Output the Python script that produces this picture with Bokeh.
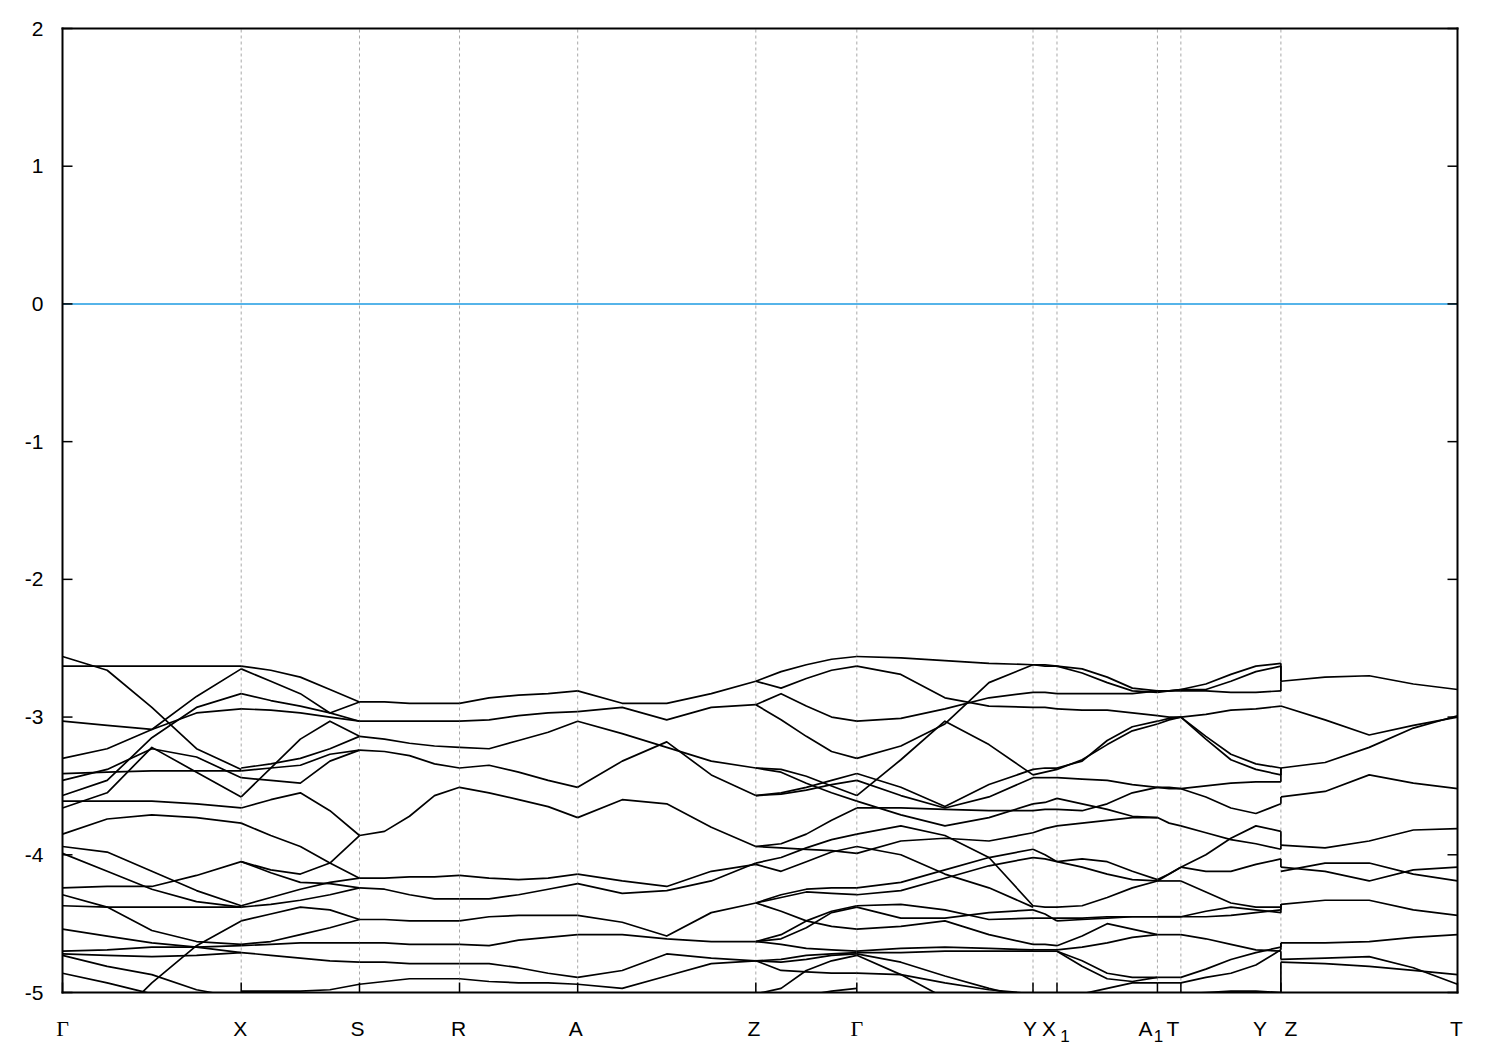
import numpy as np
from bokeh.plotting import figure
from bokeh.models import Range1d, FixedTicker, BoxAnnotation
from bokeh.core.properties import value
from bokeh.embed import file_html
from bokeh.resources import INLINE

# ---------------- data ----------------
kpt_names = ["Γ", "X", "S", "R", "A", "Z", "Γ", "Y", "X_1", "A_1", "T", "Y|Z", "T"]
kpt_pos = [0.0, 0.1281, 0.2129, 0.2846, 0.3693, 0.4970, 0.5694,
           0.6957, 0.7129, 0.7849, 0.8017, 0.8734, 1.0]
energy_ticks = [-5, -4, -3, -2, -1, 0, 1, 2]
fermi_level = 0.0

bands_G_X = [
    [-2.56, -2.66, -2.93, -3.23, -3.38],
    [-2.63, -2.63, -2.63, -2.63, -2.63],
    [-3.30, -3.23, -3.09, -2.85, -2.65],
    [-3.03, -3.06, -3.09, -2.97, -2.94],
    [-3.57, -3.46, -3.15, -2.93, -2.83],
    [-3.46, -3.38, -3.23, -3.29, -3.44],
    [-3.41, -3.40, -3.39, -3.39, -3.39],
    [-3.66, -3.55, -3.22, -3.40, -3.58],
    [-3.61, -3.61, -3.61, -3.63, -3.66],
    [-3.85, -3.74, -3.71, -3.73, -3.77],
    [-3.94, -3.98, -4.12, -4.26, -4.37],
    [-3.99, -4.12, -4.25, -4.34, -4.38],
    [-4.24, -4.23, -4.23, -4.15, -4.05],
    [-4.29, -4.38, -4.55, -4.63, -4.65],
    [-4.37, -4.38, -4.38, -4.38, -4.38],
    [-4.54, -4.59, -4.64, -4.67, -4.71],
    [-4.70, -4.69, -4.67, -4.67, -4.66],
    [-4.72, -4.73, -4.74, -4.73, -4.71],
    [-4.73, -4.81, -4.87, -4.98, -5.04],
    [-4.86, -4.93, -5.01, -5.10, -5.15],
    [-5.30, -5.25, -4.93, -4.66, -4.48],
]

bands_X_S = [
    [-2.63, -2.66, -2.71, -2.80, -2.89],
    [-2.65, -2.74, -2.83, -2.97, -3.03],
    [-2.83, -2.88, -2.92, -2.97, -2.89],
    [-2.94, -2.95, -2.97, -3.00, -3.03],
    [-3.37, -3.34, -3.30, -3.23, -3.14],
    [-3.39, -3.37, -3.35, -3.27, -3.24],
    [-3.44, -3.46, -3.48, -3.32, -3.24],
    [-3.58, -3.37, -3.16, -3.03, -3.14],
    [-3.66, -3.60, -3.55, -3.68, -3.86],
    [-3.77, -3.86, -3.94, -4.06, -4.17],
    [-4.05, -4.11, -4.14, -4.06, -3.86],
    [-4.05, -4.13, -4.20, -4.21, -4.24],
    [-4.37, -4.31, -4.25, -4.20, -4.17],
    [-4.38, -4.36, -4.33, -4.29, -4.24],
    [-4.48, -4.43, -4.38, -4.40, -4.47],
    [-4.65, -4.63, -4.58, -4.53, -4.47],
    [-4.66, -4.65, -4.64, -4.64, -4.64],
    [-4.71, -4.73, -4.75, -4.77, -4.78],
    [-4.99, -4.99, -4.99, -4.98, -4.94],
]

bands_S_R = [
    [-2.89, -2.89, -2.90, -2.90, -2.90],
    [-3.03, -3.03, -3.03, -3.03, -3.03],
    [-3.14, -3.16, -3.19, -3.21, -3.22],
    [-3.24, -3.25, -3.28, -3.34, -3.37],
    [-3.86, -3.83, -3.72, -3.57, -3.51],
    [-4.17, -4.17, -4.16, -4.16, -4.15],
    [-4.24, -4.25, -4.29, -4.32, -4.32],
    [-4.47, -4.47, -4.48, -4.48, -4.48],
    [-4.64, -4.64, -4.65, -4.65, -4.65],
    [-4.78, -4.78, -4.79, -4.79, -4.79],
    [-4.94, -4.92, -4.90, -4.90, -4.90],
]

bands_R_A = [
    [-2.90, -2.86, -2.84, -2.83, -2.81],
    [-3.03, -3.02, -2.99, -2.97, -2.96],
    [-3.22, -3.23, -3.17, -3.11, -3.03],
    [-3.37, -3.35, -3.40, -3.46, -3.51],
    [-3.51, -3.55, -3.60, -3.65, -3.73],
    [-4.15, -4.17, -4.18, -4.17, -4.14],
    [-4.32, -4.32, -4.29, -4.25, -4.21],
    [-4.48, -4.45, -4.44, -4.44, -4.44],
    [-4.65, -4.66, -4.62, -4.60, -4.58],
    [-4.79, -4.79, -4.82, -4.86, -4.89],
    [-4.90, -4.92, -4.93, -4.93, -4.94],
]

bands_A_Z = [
    [-2.81, -2.90, -2.90, -2.83, -2.74],
    [-2.96, -2.93, -3.02, -2.93, -2.91],
    [-3.03, -3.12, -3.22, -3.32, -3.37],
    [-3.51, -3.32, -3.18, -3.42, -3.57],
    [-3.73, -3.60, -3.63, -3.80, -3.94],
    [-4.14, -4.19, -4.23, -4.12, -4.07],
    [-4.21, -4.28, -4.26, -4.19, -4.06],
    [-4.44, -4.49, -4.59, -4.42, -4.35],
    [-4.58, -4.58, -4.61, -4.63, -4.63],
    [-4.89, -4.84, -4.72, -4.75, -4.77],
    [-4.94, -4.97, -4.88, -4.79, -4.77],
]

bands_Z_G = [
    [-2.74, -2.67, -2.62, -2.58, -2.56],
    [-2.74, -2.79, -2.72, -2.66, -2.63],
    [-2.91, -2.83, -2.92, -3.00, -3.03],
    [-2.91, -3.02, -3.14, -3.25, -3.30],
    [-3.37, -3.38, -3.43, -3.50, -3.57],
    [-3.37, -3.40, -3.48, -3.55, -3.61],
    [-3.57, -3.55, -3.51, -3.46, -3.41],
    [-3.57, -3.56, -3.53, -3.49, -3.46],
    [-3.94, -3.92, -3.85, -3.75, -3.66],
    [-3.94, -3.95, -3.96, -3.97, -3.99],
    [-4.06, -4.02, -3.95, -3.89, -3.85],
    [-4.07, -4.12, -4.05, -3.98, -3.94],
    [-4.35, -4.29, -4.25, -4.24, -4.24],
    [-4.35, -4.31, -4.27, -4.28, -4.29],
    [-4.35, -4.41, -4.48, -4.52, -4.54],
    [-4.63, -4.58, -4.48, -4.41, -4.37],
    [-4.63, -4.61, -4.53, -4.42, -4.38],
    [-4.63, -4.65, -4.68, -4.69, -4.70],
    [-4.77, -4.76, -4.73, -4.72, -4.71],
    [-4.77, -4.78, -4.76, -4.73, -4.72],
    [-5.01, -4.97, -4.84, -4.77, -4.73],
    [-4.77, -4.84, -4.85, -4.86, -4.86],
    [-5.08, -5.05, -5.02, -4.99, -4.97],
]

bands_G_Y = [
    [-2.56, -2.57, -2.59, -2.61, -2.62],
    [-2.63, -2.69, -2.86, -2.92, -2.93],
    [-3.03, -3.01, -2.94, -2.86, -2.82],
    [-3.30, -3.21, -3.05, -2.75, -2.62],
    [-3.57, -3.31, -3.03, -3.20, -3.42],
    [-3.41, -3.51, -3.65, -3.49, -3.38],
    [-3.46, -3.57, -3.66, -3.58, -3.44],
    [-3.66, -3.66, -3.67, -3.68, -3.68],
    [-3.61, -3.71, -3.79, -3.73, -3.63],
    [-3.85, -3.79, -3.86, -4.02, -4.37],
    [-3.94, -4.00, -4.14, -4.24, -4.38],
    [-3.99, -3.90, -3.88, -3.90, -3.84],
    [-4.24, -4.20, -4.11, -4.02, -3.96],
    [-4.29, -4.26, -4.17, -4.08, -4.02],
    [-4.37, -4.36, -4.40, -4.47, -4.46],
    [-4.38, -4.46, -4.46, -4.42, -4.40],
    [-4.54, -4.52, -4.48, -4.58, -4.65],
    [-4.70, -4.68, -4.67, -4.68, -4.69],
    [-4.71, -4.71, -4.70, -4.70, -4.70],
    [-4.73, -4.87, -5.04, -5.10, -5.10],
    [-4.86, -4.87, -4.93, -4.98, -5.01],
    [-4.72, -4.78, -4.88, -4.97, -5.05],
]

bands_Y_X1 = [
    [-2.62, -2.62, -2.63],
    [-2.62, -2.63, -2.63],
    [-2.82, -2.82, -2.83],
    [-2.93, -2.93, -2.94],
    [-3.38, -3.37, -3.37],
    [-3.42, -3.40, -3.38],
    [-3.63, -3.62, -3.59],
    [-3.68, -3.67, -3.67],
    [-3.44, -3.44, -3.44],
    [-3.84, -3.81, -3.79],
    [-3.96, -4.00, -4.05],
    [-4.02, -4.03, -4.05],
    [-4.37, -4.38, -4.38],
    [-4.40, -4.43, -4.48],
    [-4.46, -4.46, -4.46],
    [-4.65, -4.65, -4.66],
    [-4.69, -4.69, -4.69],
    [-4.70, -4.70, -4.70],
]

bands_X1_A1 = [
    [-2.63, -2.65, -2.71, -2.79, -2.81],
    [-2.63, -2.68, -2.75, -2.81, -2.82],
    [-2.83, -2.83, -2.83, -2.83, -2.81],
    [-2.94, -2.95, -2.95, -2.97, -2.99],
    [-3.37, -3.32, -3.17, -3.07, -3.03],
    [-3.38, -3.31, -3.20, -3.10, -3.05],
    [-3.59, -3.63, -3.67, -3.72, -3.73],
    [-3.67, -3.68, -3.63, -3.55, -3.51],
    [-3.44, -3.45, -3.46, -3.49, -3.51],
    [-3.79, -3.77, -3.75, -3.73, -3.73],
    [-4.05, -4.03, -4.05, -4.12, -4.18],
    [-4.05, -4.09, -4.14, -4.18, -4.19],
    [-4.38, -4.37, -4.31, -4.24, -4.19],
    [-4.48, -4.47, -4.46, -4.45, -4.45],
    [-4.46, -4.46, -4.45, -4.45, -4.45],
    [-4.66, -4.59, -4.50, -4.54, -4.58],
    [-4.69, -4.67, -4.64, -4.60, -4.58],
    [-4.70, -4.77, -4.86, -4.89, -4.89],
    [-4.70, -4.81, -4.90, -4.92, -4.89],
    [-5.04, -5.01, -4.97, -4.93, -4.93],
]

bands_A1_T = [
    [-2.81, -2.81, -2.80],
    [-2.82, -2.81, -2.80],
    [-2.81, -2.81, -2.81],
    [-2.99, -3.00, -3.00],
    [-3.03, -3.01, -3.00],
    [-3.05, -3.02, -3.00],
    [-3.51, -3.51, -3.52],
    [-3.51, -3.52, -3.52],
    [-3.73, -3.77, -3.79],
    [-4.18, -4.14, -4.09],
    [-4.19, -4.19, -4.19],
    [-4.19, -4.14, -4.09],
    [-4.45, -4.45, -4.45],
    [-4.45, -4.45, -4.45],
    [-4.58, -4.58, -4.58],
    [-4.89, -4.89, -4.89],
    [-4.93, -4.93, -4.93],
]

bands_T_Y = [
    [-2.80, -2.76, -2.69, -2.63, -2.61],
    [-2.80, -2.80, -2.74, -2.67, -2.63],
    [-2.81, -2.81, -2.82, -2.82, -2.81],
    [-3.00, -2.98, -2.95, -2.94, -2.92],
    [-3.00, -3.14, -3.27, -3.34, -3.37],
    [-3.00, -3.16, -3.31, -3.38, -3.42],
    [-3.52, -3.50, -3.48, -3.47, -3.47],
    [-3.52, -3.58, -3.66, -3.70, -3.63],
    [-3.79, -3.84, -3.89, -3.92, -3.96],
    [-4.09, -4.00, -3.88, -3.79, -3.83],
    [-4.19, -4.27, -4.35, -4.38, -4.38],
    [-4.09, -4.12, -4.12, -4.07, -4.03],
    [-4.45, -4.45, -4.44, -4.42, -4.40],
    [-4.45, -4.41, -4.38, -4.40, -4.42],
    [-4.58, -4.61, -4.65, -4.69, -4.70],
    [-4.89, -4.83, -4.76, -4.71, -4.67],
    [-4.93, -4.89, -4.86, -4.80, -4.69],
    [-5.01, -5.00, -4.99, -4.99, -5.00],
]

bands_Z_T = [
    [-2.74, -2.71, -2.70, -2.76, -2.80],
    [-2.92, -3.02, -3.13, -3.06, -3.00],
    [-3.37, -3.33, -3.22, -3.08, -2.99],
    [-3.58, -3.54, -3.42, -3.48, -3.52],
    [-3.93, -3.95, -3.90, -3.82, -3.81],
    [-4.12, -4.06, -4.06, -4.14, -4.19],
    [-4.09, -4.12, -4.19, -4.11, -4.09],
    [-4.36, -4.33, -4.33, -4.40, -4.44],
    [-4.64, -4.64, -4.63, -4.60, -4.58],
    [-4.76, -4.75, -4.74, -4.82, -4.94],
    [-4.78, -4.79, -4.81, -4.84, -4.87],
]

segments = [
    (0, 1, bands_G_X), (1, 2, bands_X_S), (2, 3, bands_S_R), (3, 4, bands_R_A),
    (4, 5, bands_A_Z), (5, 6, bands_Z_G), (6, 7, bands_G_Y), (7, 8, bands_Y_X1),
    (8, 9, bands_X1_A1), (9, 10, bands_A1_T), (10, 11, bands_T_Y), (11, 12, bands_Z_T),
]

# ---------------- layout (pixels) ----------------
W, H = 1490, 1046
BOX_L, BOX_R, BOX_T, BOX_B = 62, 1457, 28, 992     # plotting box on the canvas
PAD = 14                                           # room for labels at box corners
TICK = 10
e_min, e_max = energy_ticks[0], energy_ticks[-1]
k_min, k_max = kpt_pos[0], kpt_pos[-1]
px_x = (k_max - k_min) / (BOX_R - BOX_L)
px_y = (e_max - e_min) / (BOX_B - BOX_T)

x_lo, x_hi = k_min - PAD * px_x, k_max + PAD * px_x
y_lo = e_min - (H - BOX_B) * px_y

p = figure(width=W, height=H,
           x_range=Range1d(x_lo, x_hi), y_range=Range1d(y_lo, e_max),
           x_axis_location=None, output_backend="svg", toolbar_location=None,
           min_border_left=BOX_L - PAD, min_border_right=W - BOX_R - PAD,
           min_border_top=BOX_T, min_border_bottom=0)
p.background_fill_color = "white"
p.border_fill_color = "white"
p.outline_line_color = None
p.grid.visible = False

# energy tick labels from the real y axis (ticks drawn inside the box below)
p.yaxis.ticker = FixedTicker(ticks=energy_ticks)
p.yaxis.major_label_overrides = {t: str(t) for t in energy_ticks}
p.yaxis.major_tick_in = 0
p.yaxis.major_tick_out = 0
p.yaxis.minor_tick_line_color = None
p.yaxis.axis_line_color = None
p.yaxis.major_label_standoff = 19 - PAD
p.yaxis.major_label_text_font = "Liberation Sans"
p.yaxis.major_label_text_font_size = "21px"
p.yaxis.major_label_text_color = "black"

# dashed vertical lines at the interior k-points
inner = kpt_pos[1:-1]
p.segment(x0=inner, y0=[e_min] * len(inner), x1=inner, y1=[e_max] * len(inner),
          line_color="#a8a8a8", line_dash="3 3", line_width=1)

# Fermi level
p.segment(x0=[k_min], y0=[fermi_level], x1=[k_max], y1=[fermi_level],
          line_color="#56b4e9", line_width=2)

# bands
xs_all, ys_all = [], []
for i0, i1, bands in segments:
    for band in bands:
        xs_all.append(list(np.linspace(kpt_pos[i0], kpt_pos[i1], len(band))))
        ys_all.append(band)
p.multi_line(xs_all, ys_all, line_color="black", line_width=1.7, line_join="round")

# vertical jumps at the Y|Z break (each Y end joined to nearest Z start)
y_ends = [b[-1] for b in bands_T_Y]
z_starts = [b[0] for b in bands_Z_T]
jx, j0, j1 = [], [], []
for e in y_ends:
    z = min(z_starts, key=lambda v: abs(v - e))
    jx.append(kpt_pos[11]); j0.append(e); j1.append(z)
p.segment(x0=jx, y0=j0, x1=jx, y1=j1, line_color="black", line_width=1.7)

# hide whatever falls below the lowest energy
p.add_layout(BoxAnnotation(left=x_lo, right=x_hi, bottom=y_lo, top=e_min,
                           fill_color="white", fill_alpha=1.0, line_color=None))

# box and inward ticks
p.segment(x0=[k_min, k_min, k_min, k_max], y0=[e_min, e_max, e_min, e_min],
          x1=[k_max, k_max, k_min, k_max], y1=[e_min, e_max, e_max, e_max],
          line_color="black", line_width=2, line_cap="square", level="overlay")
n_e, n_k = len(energy_ticks), len(kpt_pos)
p.segment(x0=[k_min] * n_e, y0=energy_ticks, x1=[k_min + TICK * px_x] * n_e, y1=energy_ticks,
          line_color="black", line_width=1.5, level="overlay")
p.segment(x0=[k_max - TICK * px_x] * n_e, y0=energy_ticks, x1=[k_max] * n_e, y1=energy_ticks,
          line_color="black", line_width=1.5, level="overlay")
p.segment(x0=kpt_pos, y0=[e_min] * n_k, x1=kpt_pos, y1=[e_min + TICK * px_y] * n_k,
          line_color="black", line_width=1.5, level="overlay")

# k-point labels (with subscripts); nudges in pixels
label_nudge = {
    0: [(0, 0)], 1: [(-1, 0)], 2: [(-2, 0)], 3: [(-1, 0)], 4: [(-2, 0)], 5: [(-2, 0)],
    6: [(0, 0)], 7: [(-3, 0)], 8: [(-8, 0), (8, -7)], 9: [(-12, 0), (1, -7)],
    10: [(-8, 0)], 11: [(-21, 0), (10, 0)], 12: [(-1, 0)],
}
BASELINE = 36   # pixels below the box
groups = {"serif": ([], [], [], []), "sans": ([], [], [], []), "sub": ([], [], [], [])}
for i, name in enumerate(kpt_names):
    if "_" in name:
        parts = name.split("_")
    elif "|" in name:
        parts = name.split("|")
    else:
        parts = [name]
    for j, txt in enumerate(parts):
        dx, dy = label_nudge[i][j]
        key = "serif" if txt == "Γ" else ("sub" if ("_" in name and j == 1) else "sans")
        gx, gy, gt, go = groups[key]
        gx.append(kpt_pos[i]); gy.append(e_min - (BASELINE - dy) * px_y)
        gt.append(txt); go.append(dx)

styles = {"serif": ("Liberation Serif", "22px"), "sans": ("Liberation Sans", "21px"),
          "sub": ("Liberation Sans", "17px")}
for key, (gx, gy, gt, go) in groups.items():
    font, size = styles[key]
    p.text(x=gx, y=gy, text=gt, x_offset=go, text_align="center",
           text_baseline="alphabetic", text_font=value(font),
           text_font_size=value(size), text_color="black", level="overlay")

open("out.html", "w").write(file_html(p, INLINE))
